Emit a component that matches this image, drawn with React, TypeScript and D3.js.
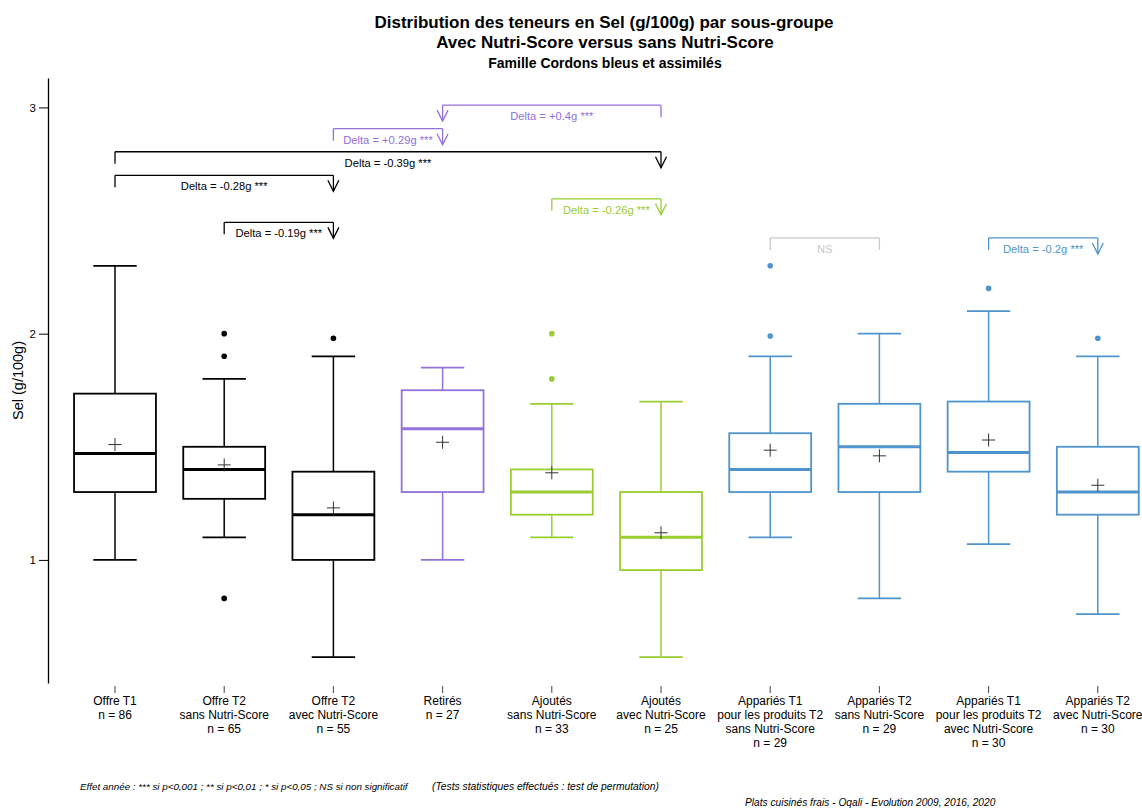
import { useEffect, useRef } from 'react'
import * as d3 from 'd3'

// x categories (multi-line labels)
const categories = [
  ['Offre T1', 'n = 86'],
  ['Offre T2', 'sans Nutri-Score', 'n = 65'],
  ['Offre T2', 'avec Nutri-Score', 'n = 55'],
  ['Retirés', 'n = 27'],
  ['Ajoutés', 'sans Nutri-Score', 'n = 33'],
  ['Ajoutés', 'avec Nutri-Score', 'n = 25'],
  ['Appariés T1', 'pour les produits T2', 'sans Nutri-Score', 'n = 29'],
  ['Appariés T2', 'sans Nutri-Score', 'n = 29'],
  ['Appariés T1', 'pour les produits T2', 'avec Nutri-Score', 'n = 30'],
  ['Appariés T2', 'avec Nutri-Score', 'n = 30'],
]
const groupColors = ['#000000', '#000000', '#000000', '#9370DB', '#9ACD32', '#9ACD32', '#4F94CD', '#4F94CD', '#4F94CD', '#4F94CD']

// box statistics (g/100g)
const whiskerLow = [1.0, 1.1, 0.57, 1.0, 1.1, 0.57, 1.1, 0.83, 1.07, 0.76]
const q1 = [1.3, 1.27, 1.0, 1.3, 1.2, 0.955, 1.3, 1.3, 1.39, 1.2]
const median = [1.47, 1.4, 1.2, 1.58, 1.3, 1.1, 1.4, 1.5, 1.475, 1.3]
const q3 = [1.735, 1.5, 1.39, 1.75, 1.4, 1.3, 1.56, 1.69, 1.7, 1.5]
const whiskerHigh = [2.3, 1.8, 1.9, 1.85, 1.69, 1.7, 1.9, 2.0, 2.1, 1.9]
const means = [1.51, 1.42, 1.23, 1.52, 1.385, 1.12, 1.485, 1.46, 1.53, 1.33]
const outliers = [[], [2.0, 1.9, 0.83], [1.98], [], [2.0, 1.8], [], [2.3, 1.99], [], [2.2], [1.98]]

// comparison brackets: arrow drawn at the "to" end
const bracketFrom = [0, 1, 0, 2, 5, 4, 6, 8]
const bracketTo = [2, 2, 5, 3, 3, 5, 7, 9]
const bracketLevel = [2.7, 2.492, 2.804, 2.906, 3.01, 2.596, 2.423, 2.423]
const bracketLabel = [
  'Delta = -0.28g ***',
  'Delta = -0.19g ***',
  'Delta = -0.39g ***',
  'Delta = +0.29g ***',
  'Delta = +0.4g ***',
  'Delta = -0.26g ***',
  'NS',
  'Delta = -0.2g ***',
]
const bracketColor = ['#000000', '#000000', '#000000', '#9370DB', '#9370DB', '#9ACD32', '#c8c8c8', '#4F94CD']
const bracketArrow = [true, true, true, true, true, true, false, true]

const yTicks = [1, 2, 3]

export default function App() {
  const ref = useRef<SVGSVGElement | null>(null)

  useEffect(() => {
    if (!ref.current) return
    const width = 1142
    const height = 808
    const font = '"Liberation Sans", Arial, sans-serif'

    const svg = d3.select(ref.current)
    svg.selectAll('*').remove()
    svg.attr('width', width).attr('height', height).style('font-family', font)

    const x = d3.scaleBand<number>().domain(d3.range(categories.length)).range([60.4, 1152.4]).padding(0)
    const y = d3.scaleLinear().domain([0.456, 3.13]).range([683, 78])
    const cx = (i: number) => (x(i) as number) + x.bandwidth() / 2
    const boxW = x.bandwidth() * 0.75
    const capW = boxW * 0.53

    // titles
    const titles = svg.append('g').attr('text-anchor', 'middle').attr('font-weight', 'bold').attr('fill', '#000')
    titles.append('text').attr('x', 604).attr('y', 28).attr('font-size', 17).text('Distribution des teneurs en Sel (g/100g) par sous-groupe')
    titles.append('text').attr('x', 605).attr('y', 48).attr('font-size', 17).text('Avec Nutri-Score versus sans Nutri-Score')
    titles.append('text').attr('x', 605).attr('y', 68).attr('font-size', 14).text('Famille Cordons bleus et assimilés')

    // y axis
    const yAxis = svg
      .append('g')
      .attr('transform', 'translate(48,0)')
      .call(d3.axisLeft(y).tickValues(yTicks).tickFormat(d3.format('d')).tickSize(9).tickSizeOuter(0).tickPadding(3))
    yAxis.select('.domain').attr('stroke', '#000').attr('stroke-width', 1.3)
    yAxis.selectAll('.tick line').attr('stroke', '#000').attr('stroke-width', 1)
    yAxis.selectAll('.tick text').attr('font-size', 11.5).attr('font-family', font).attr('fill', '#000')

    svg
      .append('text')
      .attr('transform', `translate(23,${(y.range()[0] + y.range()[1]) / 2}) rotate(-90)`)
      .attr('text-anchor', 'middle')
      .attr('font-size', 14.5)
      .text('Sel (g/100g)')

    // x ticks and labels
    const xg = svg.append('g')
    categories.forEach((lines, i) => {
      xg.append('line').attr('x1', cx(i)).attr('x2', cx(i)).attr('y1', 686).attr('y2', 693).attr('stroke', '#444').attr('stroke-width', 1)
      const t = xg.append('text').attr('text-anchor', 'middle').attr('font-size', 12).attr('fill', '#000')
      lines.forEach((l, j) => {
        t.append('tspan').attr('x', cx(i)).attr('y', 704.5 + j * 14).text(l)
      })
    })

    // boxes
    const boxes = svg.append('g')
    categories.forEach((_, i) => {
      const c = cx(i)
      const col = groupColors[i]
      const g = boxes.append('g').attr('stroke', col).attr('fill', 'none')
      g.append('line').attr('x1', c).attr('x2', c).attr('y1', y(whiskerHigh[i])).attr('y2', y(q3[i])).attr('stroke-width', 1.5)
      g.append('line').attr('x1', c).attr('x2', c).attr('y1', y(q1[i])).attr('y2', y(whiskerLow[i])).attr('stroke-width', 1.5)
      g.append('line').attr('x1', c - capW / 2).attr('x2', c + capW / 2).attr('y1', y(whiskerHigh[i])).attr('y2', y(whiskerHigh[i])).attr('stroke-width', 1.8)
      g.append('line').attr('x1', c - capW / 2).attr('x2', c + capW / 2).attr('y1', y(whiskerLow[i])).attr('y2', y(whiskerLow[i])).attr('stroke-width', 1.8)
      g.append('rect')
        .attr('x', c - boxW / 2)
        .attr('y', y(q3[i]))
        .attr('width', boxW)
        .attr('height', y(q1[i]) - y(q3[i]))
        .attr('stroke-width', 1.8)
      g.append('line').attr('x1', c - boxW / 2).attr('x2', c + boxW / 2).attr('y1', y(median[i])).attr('y2', y(median[i])).attr('stroke-width', 3)
      outliers[i].forEach((o) => {
        boxes.append('circle').attr('cx', c).attr('cy', y(o)).attr('r', 2.8).attr('fill', col)
      })
      const m = y(means[i])
      const mg = boxes.append('g').attr('stroke', '#333').attr('stroke-width', 1)
      mg.append('line').attr('x1', c - 6.5).attr('x2', c + 6.5).attr('y1', m).attr('y2', m)
      mg.append('line').attr('x1', c).attr('x2', c).attr('y1', m - 6.5).attr('y2', m + 6.5)
    })

    // brackets
    const br = svg.append('g').attr('fill', 'none')
    bracketLabel.forEach((label, k) => {
      const a = cx(bracketFrom[k])
      const b = cx(bracketTo[k])
      const top = y(bracketLevel[k])
      const col = bracketColor[k]
      const g = br.append('g').attr('stroke', col).attr('stroke-width', 1.3)
      g.append('line').attr('x1', a).attr('x2', b).attr('y1', top).attr('y2', top)
      g.append('line').attr('x1', a).attr('x2', a).attr('y1', top).attr('y2', top + 12)
      if (bracketArrow[k]) {
        g.append('line').attr('x1', b).attr('x2', b).attr('y1', top).attr('y2', top + 16)
        g.append('path').attr('d', `M${b - 5.5},${top + 5}L${b},${top + 16}L${b + 5.5},${top + 5}`)
      } else {
        g.append('line').attr('x1', b).attr('x2', b).attr('y1', top).attr('y2', top + 12)
      }
      br.append('text')
        .attr('x', (a + b) / 2)
        .attr('y', top + 15)
        .attr('text-anchor', 'middle')
        .attr('font-size', 11.2)
        .attr('fill', col)
        .attr('stroke', 'none')
        .text(label)
    })

    // footers
    const foot = svg.append('g').attr('font-style', 'italic').attr('fill', '#000')
    foot.append('text').attr('x', 80).attr('y', 790).attr('font-size', 9.8).text('Effet année : *** si p<0,001 ; ** si p<0,01 ; * si p<0,05 ; NS si non significatif')
    foot.append('text').attr('x', 432).attr('y', 790).attr('font-size', 10.3).text('(Tests statistiques effectués : test de permutation)')
    foot.append('text').attr('x', 745).attr('y', 806).attr('font-size', 10.2).text('Plats cuisinés frais - Oqali - Evolution 2009, 2016, 2020')
  }, [])

  return (
    <div style={{ position: 'absolute', left: 0, top: 0, background: '#fff' }}>
      <svg ref={ref} style={{ display: 'block' }} />
    </div>
  )
}
